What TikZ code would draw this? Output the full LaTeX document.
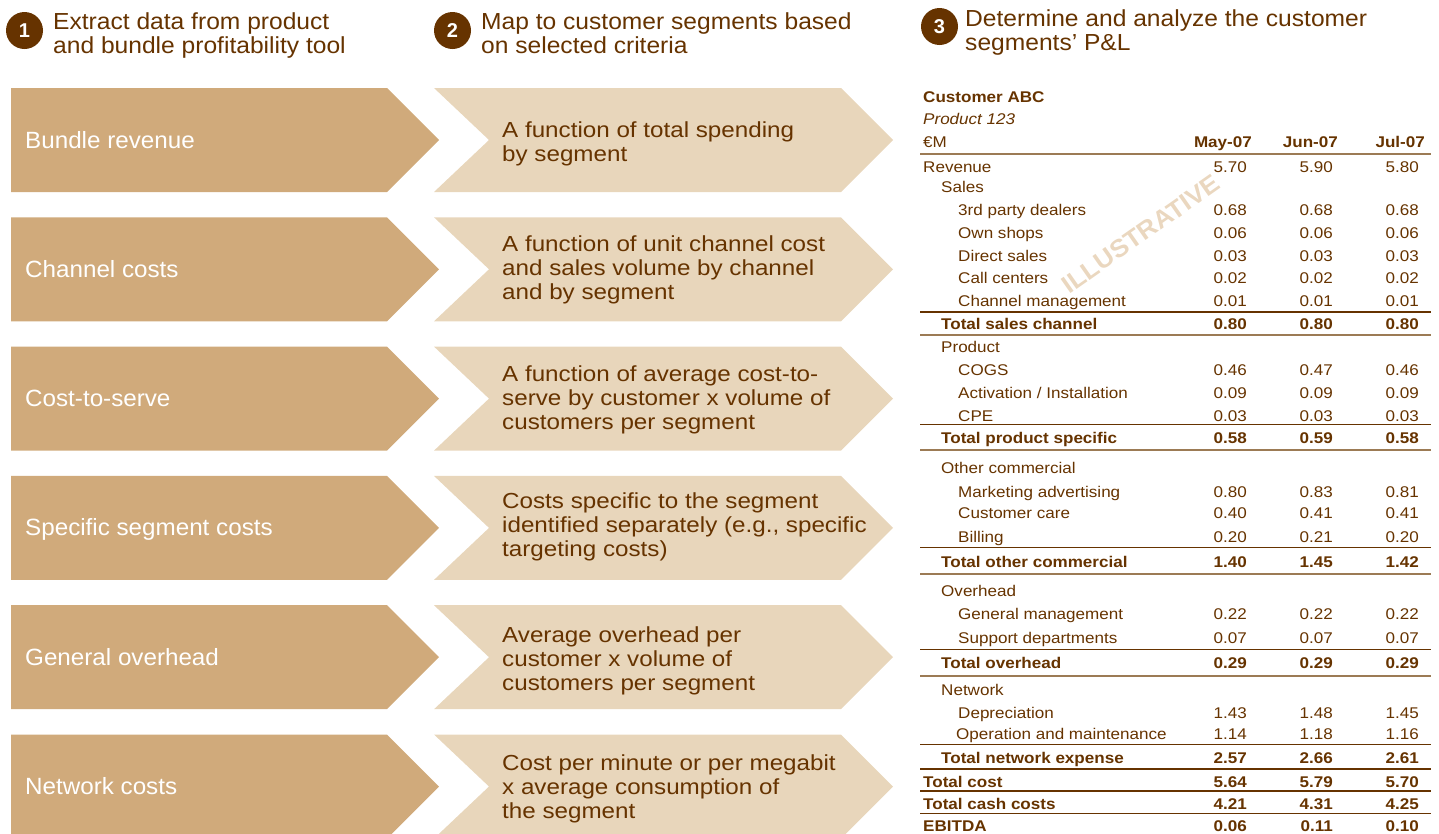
\documentclass[tikz,border=0pt]{standalone}
\usepackage{fontspec}
\setmainfont{Liberation Sans}
\newfontfamily\headfam[FakeStretch=1.06]{Liberation Sans}
\newfontfamily\barfam[FakeStretch=1.03]{Liberation Sans}
\newfontfamily\widefam[FakeStretch=1.11]{Liberation Sans}
\newfontfamily\tabfam[FakeStretch=1.1]{Liberation Sans}
\newfontfamily\markfam[FakeStretch=1.05]{Liberation Sans}
\definecolor{ink}{HTML}{663300}
\definecolor{tandark}{HTML}{D0AA7B}
\definecolor{tanlight}{HTML}{E8D6BB}
\definecolor{markcol}{HTML}{EAD7BF}
\definecolor{rulesoft}{HTML}{9C7B55}
\newcommand\txtlines[1]{\begin{tabular}[t]{@{}l@{}}#1\end{tabular}}
\newcommand\tabfont{\tabfam\fontsize{15.5}{18}\selectfont}

\begin{document}
\begin{tikzpicture}[x=1pt,y=-1pt,
  badge/.style={circle,fill=ink,minimum size=37pt,inner sep=0pt,text=white,
    font=\fontsize{20}{20}\selectfont\bfseries},
  headtxt/.style={anchor=base west,inner sep=0pt,text=ink,font=\headfam\fontsize{23.2}{23.4}\selectfont},
  darkbar/.style={fill=tandark},
  lightbar/.style={fill=tanlight},
  darktxt/.style={anchor=base west,inner sep=0pt,text=white,font=\barfam\fontsize{23.5}{24}\selectfont},
  lighttxt/.style={anchor=base west,inner sep=0pt,text=ink,font=\widefam\fontsize{21.8}{24.2}\selectfont},
  cell/.style={inner sep=0pt,text=ink},
  hardrule/.style={draw=ink,line width=1.2pt},
  softrule/.style={draw=rulesoft,line width=2pt},
  watermark/.style={inner sep=0pt,text=markcol,font=\markfam\fontsize{25}{25}\selectfont\bfseries}
]
\useasboundingbox (0,0) rectangle (1439,833);

% step badges and headings
\node[badge] (b1) at (24.5,30.5) {1};
\node[headtxt] (h1) at (53,29.3) {\txtlines{Extract data from product\\and bundle profitability tool}};
\node[badge] (b2) at (452.5,30.5) {2};
\node[headtxt] (h2) at (481,29.3) {\txtlines{Map to customer segments based\\on selected criteria}};
\node[badge] (b3) at (939.5,26.5) {3};
\node[headtxt] (h3) at (965,26.7) {\txtlines{Determine and analyze the customer\\segments’ P\&L}};

% cost blocks (dark) and allocation rules (light)
\foreach \ty/\dlab/\llab/\fb [count=\r] in {
  88/{Bundle revenue}/{A function of total spending\\by segment}/137,
  217.3/{Channel costs}/{A function of unit channel cost\\and sales volume by channel\\and by segment}/251,
  346.6/{Cost-to-serve}/{A function of average cost-to-\\serve by customer x volume of\\customers per segment}/381,
  475.9/{Specific segment costs}/{Costs specific to the segment\\identified separately (e.g., specific\\targeting costs)}/508,
  605.2/{General overhead}/{Average overhead per\\customer x volume of\\customers per segment}/642,
  734.5/{Network costs}/{Cost per minute or per megabit\\x average consumption of\\the segment}/770}
{
  \fill[darkbar] (11,\ty) -- ++(376,0) -- ++(52,52) -- ++(-52,52) -- ++(-376,0) -- cycle;
  \fill[lightbar] (434,\ty) -- ++(407,0) -- ++(52,52) -- ++(-52,52) -- ++(-407,0) -- ++(55,-52) -- cycle;
  \node[darktxt] (seg\r) at (25,\ty+60) {\dlab};
  \node[lighttxt] (rule\r) at (502,\fb) {\txtlines{\llab}};
}

% watermark behind the table
\node[watermark,rotate=35] (stamp) at (1141,234) {ILLUSTRATIVE};

% table heading
\node[cell,anchor=base west,font=\tabfont\bfseries] (cust) at (923,102) {Customer ABC};
\node[cell,anchor=base west,font=\tabfont\itshape] (prod) at (923,124) {Product 123};
\node[cell,anchor=base west,font=\tabfont] (unit) at (923,147) {€M};
\node[cell,anchor=base east,font=\tabfont\bfseries] (mon1) at (1252,147) {May-07};
\node[cell,anchor=base east,font=\tabfont\bfseries] (mon2) at (1338,147) {Jun-07};
\node[cell,anchor=base east,font=\tabfont\bfseries] (mon3) at (1425,147) {Jul-07};

% P&L rows
\foreach \yy/\xx/\ff/\lbl/\va/\vb/\vc [count=\i] in {
  172/923/\mdseries/Revenue/5.70/5.90/5.80,
  192/941/\mdseries/Sales///,
  215/958/\mdseries/{3rd party dealers}/0.68/0.68/0.68,
  238/958/\mdseries/{Own shops}/0.06/0.06/0.06,
  261/958/\mdseries/{Direct sales}/0.03/0.03/0.03,
  283/958/\mdseries/{Call centers}/0.02/0.02/0.02,
  306/958/\mdseries/{Channel management}/0.01/0.01/0.01,
  329/941/\bfseries/{Total sales channel}/0.80/0.80/0.80,
  352/941/\mdseries/Product///,
  375/958/\mdseries/COGS/0.46/0.47/0.46,
  398/958/\mdseries/{Activation / Installation}/0.09/0.09/0.09,
  421/958/\mdseries/CPE/0.03/0.03/0.03,
  443/941/\bfseries/{Total product specific}/0.58/0.59/0.58,
  473/941/\mdseries/{Other commercial}///,
  497/958/\mdseries/{Marketing advertising}/0.80/0.83/0.81,
  518/958/\mdseries/{Customer care}/0.40/0.41/0.41,
  542/958/\mdseries/Billing/0.20/0.21/0.20,
  567/941/\bfseries/{Total other commercial}/1.40/1.45/1.42,
  596/941/\mdseries/Overhead///,
  619/958/\mdseries/{General management}/0.22/0.22/0.22,
  643/958/\mdseries/{Support departments}/0.07/0.07/0.07,
  668/941/\bfseries/{Total overhead}/0.29/0.29/0.29,
  695/941/\mdseries/Network///,
  718/958/\mdseries/Depreciation/1.43/1.48/1.45,
  739/956/\mdseries/{Operation and maintenance}/1.14/1.18/1.16,
  763/941/\bfseries/{Total network expense}/2.57/2.66/2.61,
  787/923/\bfseries/{Total cost}/5.64/5.79/5.70,
  809/923/\bfseries/{Total cash costs}/4.21/4.31/4.25,
  831/923/\bfseries/EBITDA/0.06/0.11/0.10}
{
  \node[cell,anchor=base west,font=\tabfont\ff] (lab\i) at (\xx,\yy) {\lbl};
  \node[cell,anchor=base east,font=\tabfont\ff] (may\i) at (1247,\yy) {\va};
  \node[cell,anchor=base east,font=\tabfont\ff] (jun\i) at (1333,\yy) {\vb};
  \node[cell,anchor=base east,font=\tabfont\ff] (jul\i) at (1419,\yy) {\vc};
}

% table rules
\foreach \ry in {312,424.3,547.3,649.3,744.3,769,791,813.3}
  \draw[hardrule] (920,\ry) -- (1431,\ry);
\foreach \ry in {154,334.5,450,574,676}
  \draw[softrule] (920,\ry) -- (1431,\ry);
\end{tikzpicture}
\end{document}
